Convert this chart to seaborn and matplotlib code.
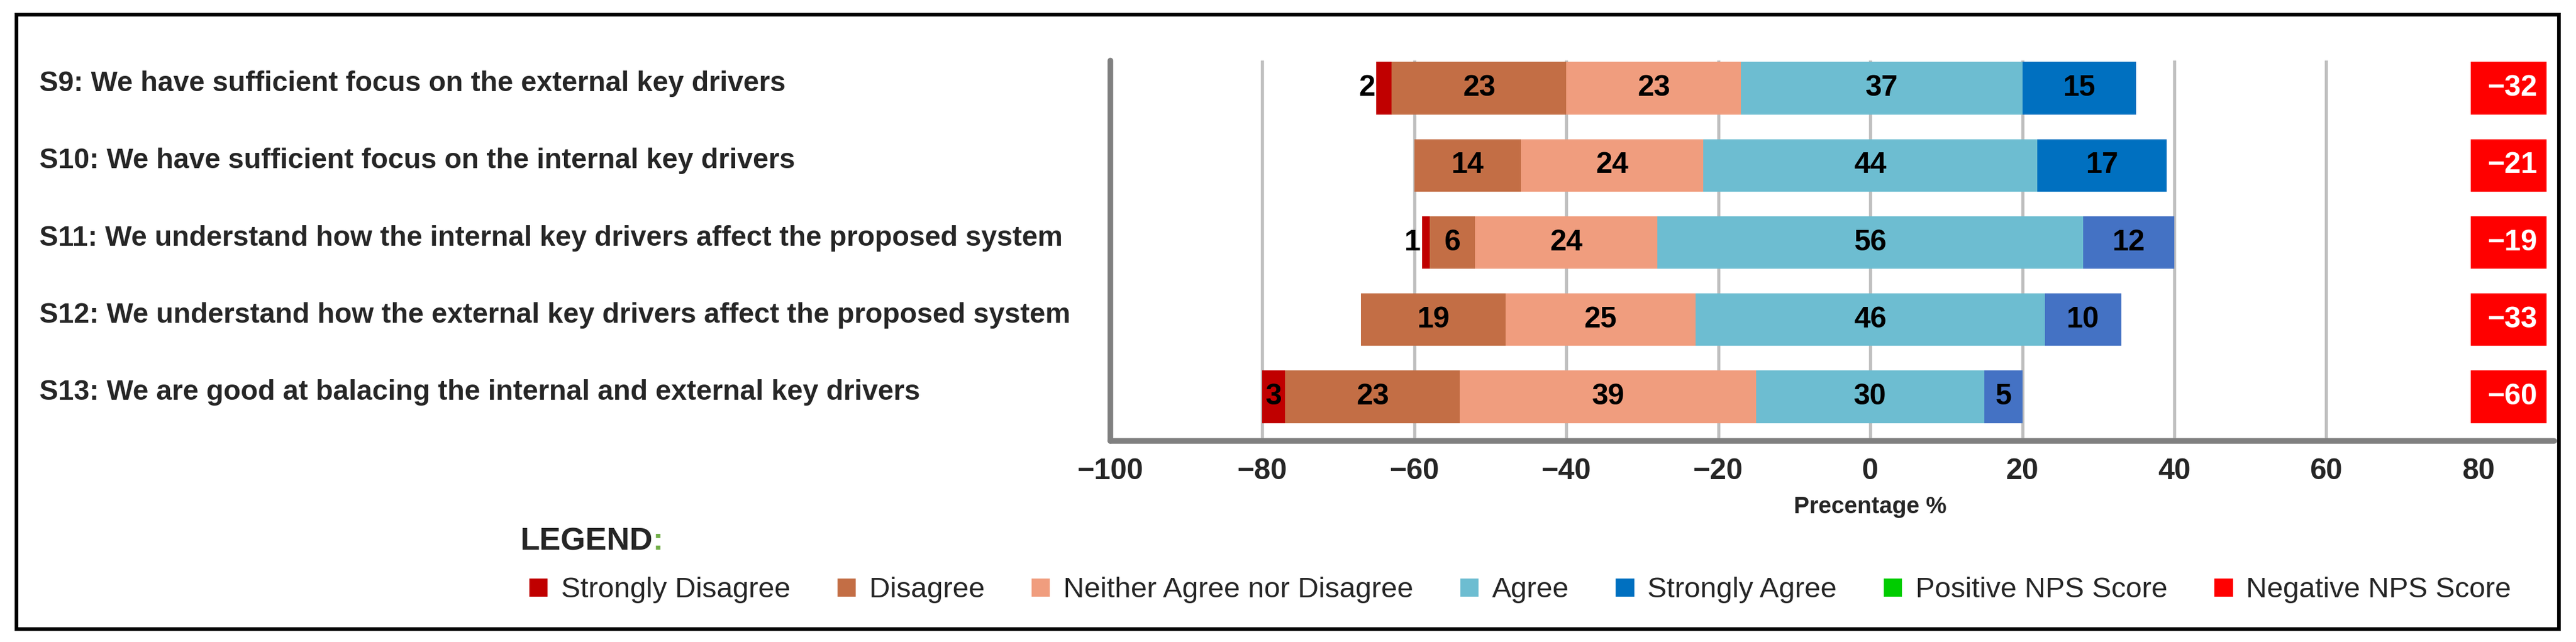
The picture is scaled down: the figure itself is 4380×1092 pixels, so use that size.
import numpy as np
import pandas as pd
import matplotlib
matplotlib.use("Agg")
import matplotlib.pyplot as plt
import matplotlib.transforms as mtransforms
from matplotlib.patches import Patch, Rectangle
import seaborn as sns

# --- data ---
statements = [
    "S9: We have sufficient focus on the external key drivers",
    "S10: We have sufficient focus on the internal key drivers",
    "S11: We understand how the internal key drivers affect the proposed system",
    "S12: We understand how the external key drivers affect the proposed system",
    "S13: We are good at balacing the internal and external key drivers",
]
strongly_disagree = [2, 0, 1, 0, 3]
disagree = [23, 14, 6, 19, 23]
neutral = [23, 24, 24, 25, 39]
agree = [37, 44, 56, 46, 30]
strongly_agree = [15, 17, 12, 10, 5]
bar_start = [-65, -60, -59, -67, -80]   # where each stacked bar begins
nps_score = [-32, -21, -19, -33, -60]
x_ticks = [-100, -80, -60, -40, -20, 0, 20, 40, 60, 80]

categories = ["Strongly Disagree", "Disagree", "Neither Agree nor Disagree",
              "Agree", "Strongly Agree"]
cat_colors = ["#C00000", "#C36E45", "#F09D7E", "#6DBDD1", "#0070C0"]
sa_row_colors = ["#0070C0", "#0070C0", "#4472C4", "#4472C4", "#4472C4"]
POS_COLOR = "#00CC00"
NEG_COLOR = "#FF0000"
NPS_X = 84

df = pd.DataFrame({
    "statement": statements,
    "Strongly Disagree": strongly_disagree,
    "Disagree": disagree,
    "Neither Agree nor Disagree": neutral,
    "Agree": agree,
    "Strongly Agree": strongly_agree,
    "start": bar_start,
    "nps": nps_score,
})

sns.set_theme(style="white")
plt.rcParams["font.family"] = ["Liberation Sans", "DejaVu Sans"]

W, H = 4380, 1092
fig = plt.figure(figsize=(W / 300, H / 300), dpi=300)
ax = fig.add_axes([1888 / W, 1 - 750 / H, (4343 - 1888) / W, (750 - 103) / H])

rows = np.arange(len(df))
bar_h = 0.68
left = df["start"].to_numpy(dtype=float)
for i, cat in enumerate(categories):
    vals = df[cat].to_numpy(dtype=float)
    colors = sa_row_colors if cat == "Strongly Agree" else cat_colors[i]
    ax.barh(rows, vals, left=left, height=bar_h, color=colors, edgecolor="none", zorder=2)
    for r, (v, l) in enumerate(zip(vals, left)):
        if v <= 0:
            continue
        if cat == "Strongly Disagree" and v < 3:
            ax.text(l - 0.2, r, f"{int(v)}", ha="right", va="center",
                    fontsize=12, fontweight="bold", color="black", zorder=3)
        else:
            ax.text(l + v / 2, r, f"{int(v)}", ha="center", va="center",
                    fontsize=12, fontweight="bold", color="black", zorder=3)
    left = left + vals

# NPS score boxes
nps_colors = [POS_COLOR if s > 0 else NEG_COLOR for s in df["nps"]]
ax.barh(rows, 10, left=NPS_X - 5, height=bar_h, color=nps_colors, edgecolor="none", zorder=2)
for r, s in enumerate(df["nps"]):
    ax.text(NPS_X + 0.5, r, f"{s}".replace("-", "\u2212"), ha="center", va="center",
            fontsize=12, fontweight="bold", color="white", zorder=3)

ax.set_xlim(-100, 90)
ax.set_ylim(4.571, -0.358)
ax.set_xticks(x_ticks)
ax.set_xticklabels([str(t).replace("-", "\u2212") for t in x_ticks], fontsize=12, fontweight="bold")
ax.set_yticks(rows)
ax.set_yticklabels(df["statement"], fontsize=11.5, fontweight="bold", ha="left")
ax.tick_params(axis="y", length=0, pad=437)
ax.tick_params(axis="x", length=0, pad=7)
shift = mtransforms.ScaledTranslation(0, 3 / 72, fig.dpi_scale_trans)
for lab in ax.get_yticklabels():
    lab.set_transform(lab.get_transform() + shift)

ax.set_axisbelow(True)
ax.grid(axis="x", color="#BFBFBF", linewidth=1.3)
ax.grid(axis="y", visible=False)
gl = ax.get_xgridlines()
gl[0].set_visible(False)
gl[-1].set_visible(False)

for side in ["top", "right"]:
    ax.spines[side].set_visible(False)
for side in ["left", "bottom"]:
    ax.spines[side].set_color("#808080")
    ax.spines[side].set_linewidth(2.3)
    ax.spines[side].set_capstyle("round")

ax.set_xlabel("Precentage %", fontsize=9.5, fontweight="bold")
ax.xaxis.set_label_coords(0, -0.173, transform=mtransforms.blended_transform_factory(ax.transData, ax.transAxes))
ax.xaxis.label.set_va("center")

# legend
t = fig.text(884 / W, 1 - 921 / H, "LEGEND", fontsize=13, fontweight="bold", va="center", ha="left")
ax.annotate(":", xy=(1, 0.5), xycoords=t, va="center", ha="left", annotation_clip=False,
            fontsize=13, fontweight="bold", color="#70AD47")
handles = [Patch(facecolor=c, label=l) for c, l in zip(cat_colors, categories)]
handles += [Patch(facecolor=POS_COLOR, label="Positive NPS Score"),
            Patch(facecolor=NEG_COLOR, label="Negative NPS Score")]
fig.legend(handles=handles, loc="center left", bbox_to_anchor=(898 / W, 1 - 1004 / H), ncol=7,
           frameon=False, fontsize=11.8, handlelength=0.72, handleheight=0.72, handletextpad=0.42,
           columnspacing=1.58, borderpad=0, borderaxespad=0)

fig.patches.append(Rectangle((28 / W, 1 - 1070 / H), (4351 - 28) / W, (1070 - 25) / H,
                             transform=fig.transFigure, fill=False, lw=1.5, ec="black"))

fig.savefig("out.png", dpi=300)
